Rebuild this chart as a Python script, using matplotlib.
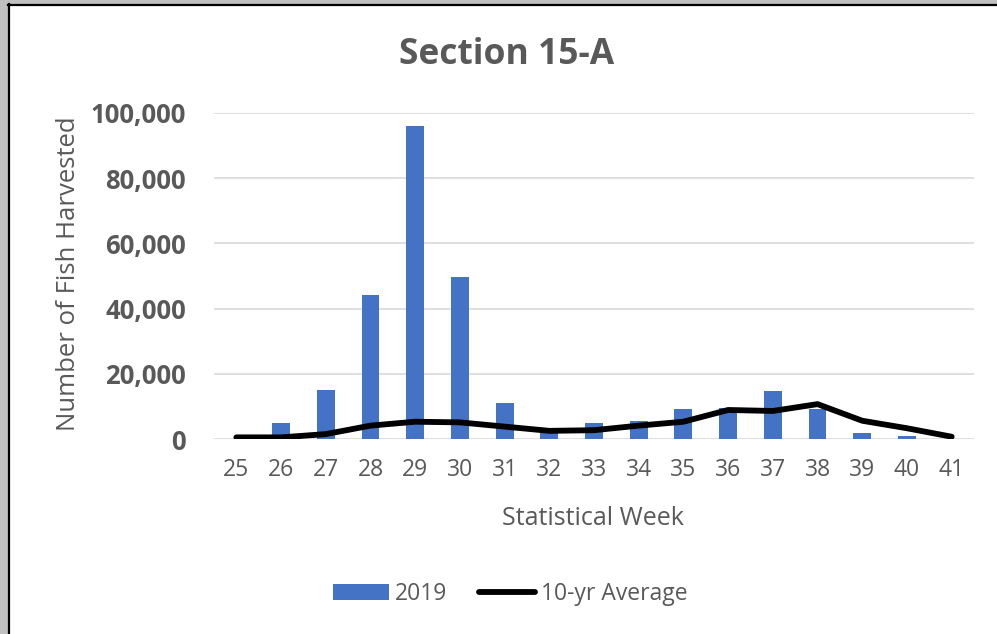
import matplotlib
matplotlib.use("Agg")
import matplotlib.pyplot as plt
import matplotlib.patches as patches
from matplotlib.lines import Line2D
from matplotlib.ticker import FuncFormatter

BLUE = "#4472C4"
TXT = "#595959"
GRID = "#D9D9D9"

weeks = ["25", "26", "27", "28", "29", "30", "31", "32", "33",
         "34", "35", "36", "37", "38", "39", "40", "41"]
harvest_2019 = [0, 4800, 15000, 44200, 96000, 49700, 10900, 1800, 4800,
                5600, 9100, 9400, 14700, 9200, 1900, 900, 0]
avg_10yr = [500, 500, 1500, 4100, 5300, 5100, 3800, 2500, 2700,
            4100, 5300, 8900, 8600, 10700, 5600, 3300, 700]
y_ticks = [0, 20000, 40000, 60000, 80000, 100000]

plt.rcParams["font.family"] = ["Open Sans", "DejaVu Sans"]

W, H = 997, 634
fig = plt.figure(figsize=(W / 100, H / 100), dpi=100, facecolor="white")

# --- рамка слева/сверху, как на скриншоте ---
fig.add_artist(patches.Rectangle((0, 0), 8 / W, 1, transform=fig.transFigure,
                                 facecolor="#C0C0C0", edgecolor="none"))
fig.add_artist(patches.Rectangle((0, 1 - 4 / H), 1, 4 / H, transform=fig.transFigure,
                                 facecolor="#C0C0C0", edgecolor="none"))
fig.add_artist(Line2D([8.5 / W, 8.5 / W], [0, 1 - 4 / H], transform=fig.transFigure,
                      color="black", linewidth=1.6))
fig.add_artist(Line2D([8 / W, 1], [1 - 4.5 / H, 1 - 4.5 / H], transform=fig.transFigure,
                      color="black", linewidth=1.6))

ax = fig.add_axes([214 / W, 1 - 439 / H, 760 / W, 326 / H])
x = list(range(len(weeks)))

ax.bar(x, harvest_2019, width=0.4, color=BLUE, zorder=2)
ax.plot(x, avg_10yr, color="black", linewidth=4.2, solid_joinstyle="round",
        solid_capstyle="round", zorder=3)

ax.set_xlim(-0.5, len(weeks) - 0.5)
ax.set_ylim(0, 100000)
ax.set_yticks(y_ticks)
ax.yaxis.set_major_formatter(FuncFormatter(lambda v, p: f"{int(v):,}"))
ax.set_xticks(x)
ax.set_xticklabels(weeks)

ax.yaxis.grid(True, color=GRID, linewidth=1.2, zorder=0)
ax.set_axisbelow(True)
for s in ax.spines.values():
    s.set_visible(False)
ax.tick_params(axis="both", length=0)
ax.tick_params(axis="y", pad=20, labelsize=18.5, labelcolor=TXT)
ax.tick_params(axis="x", pad=14, labelsize=16.5, labelcolor=TXT)
for lbl in ax.get_yticklabels():
    lbl.set_fontweight("bold")

ax.set_ylabel("Number of Fish Harvested", fontsize=18.5, color=TXT)
ax.yaxis.set_label_coords(-0.175, 0.506)
ax.set_xlabel("Statistical Week", fontsize=18, color=TXT)
ax.xaxis.set_label_coords(0.499, -0.205)

fig.text(507 / W, 1 - 55 / H, "Section 15-A", ha="center", va="center",
         fontsize=25.5, fontweight="bold", color=TXT)

handles = [patches.Patch(facecolor=BLUE, edgecolor="none"),
           Line2D([0], [0], color="black", linewidth=4.2, solid_capstyle="round")]
fig.legend(handles, ["2019", "10-yr Average"], loc="center",
           bbox_to_anchor=(510 / W, 1 - 594 / H), ncol=2, frameon=False,
           fontsize=16.5, labelcolor=TXT, handlelength=2.45, handleheight=0.65,
           handletextpad=0.25, columnspacing=1.4)

fig.savefig("out.png", dpi=100, facecolor="white")
